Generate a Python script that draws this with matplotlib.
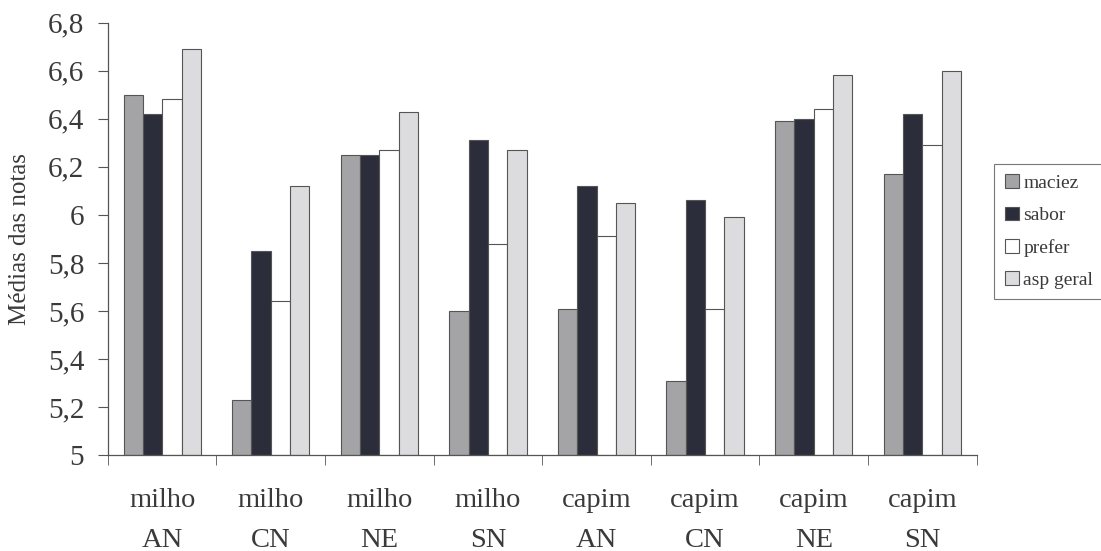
import numpy as np
import matplotlib
matplotlib.use("Agg")
import matplotlib.pyplot as plt

# dados
grupos = ["milho\nAN", "milho\nCN", "milho\nNE", "milho\nSN",
          "capim\nAN", "capim\nCN", "capim\nNE", "capim\nSN"]
maciez = [6.50, 5.23, 6.25, 5.60, 5.61, 5.31, 6.39, 6.17]
sabor = [6.42, 5.85, 6.25, 6.31, 6.12, 6.06, 6.40, 6.42]
prefer = [6.48, 5.64, 6.27, 5.88, 5.91, 5.61, 6.44, 6.29]
asp_geral = [6.69, 6.12, 6.43, 6.27, 6.05, 5.99, 6.58, 6.60]
series_nomes = ["maciez", "sabor", "prefer", "asp geral"]
y_ticks = [5.0, 5.2, 5.4, 5.6, 5.8, 6.0, 6.2, 6.4, 6.6, 6.8]
y_labels = ["5", "5,2", "5,4", "5,6", "5,8", "6", "6,2", "6,4", "6,6", "6,8"]

cores = ["#a4a4a6", "#2b2e3a", "#ffffff", "#dcdcde"]
plt.rcParams["font.family"] = ["Liberation Serif", "DejaVu Serif"]
cor_txt = "#3a3a3a"

fig = plt.figure(figsize=(11.01, 5.51), dpi=100)
ax = fig.add_axes([0.098, 0.174, 0.789, 0.785])

x = np.arange(len(grupos))
larg = 0.178
for i, (nome, vals) in enumerate(zip(series_nomes, [maciez, sabor, prefer, asp_geral])):
    ax.bar(x - 1.5 * larg + i * larg, np.array(vals) - 5, width=larg, bottom=5,
           color=cores[i], edgecolor="#555555", linewidth=0.8, label=nome)

ax.set_xlim(-0.5, len(grupos) - 0.5)
ax.set_ylim(5, 6.8)
ax.set_yticks(y_ticks)
ax.set_yticklabels(y_labels, fontsize=21, color=cor_txt)
ax.set_xticks(x)
ax.set_xticklabels(grupos, fontsize=20.5, color=cor_txt, linespacing=1.75)
ax.set_xticks(np.arange(len(grupos) + 1) - 0.5, minor=True)
ax.tick_params(axis="x", which="major", length=0, pad=24)
ax.tick_params(axis="x", which="minor", length=7, color="#555555", direction="out")
ax.tick_params(axis="y", length=7, color="#555555", direction="out", pad=10)

for s in ["top", "right"]:
    ax.spines[s].set_visible(False)
for s in ["left", "bottom"]:
    ax.spines[s].set_color("#555555")
    ax.spines[s].set_linewidth(0.9)

ax.set_ylabel("Médias das notas", fontsize=18, color=cor_txt, labelpad=12)

leg = fig.legend(loc="upper left", bbox_to_anchor=(0.903, 0.703), fontsize=14,
                 frameon=True, fancybox=False, handlelength=0.7, handleheight=0.7,
                 handletextpad=0.25, labelspacing=0.75, borderpad=0.55,
                 borderaxespad=0)
leg.get_frame().set_edgecolor("#555555")
leg.get_frame().set_linewidth(0.8)
for t in leg.get_texts():
    t.set_color(cor_txt)

fig.savefig("out.png", dpi=100)
